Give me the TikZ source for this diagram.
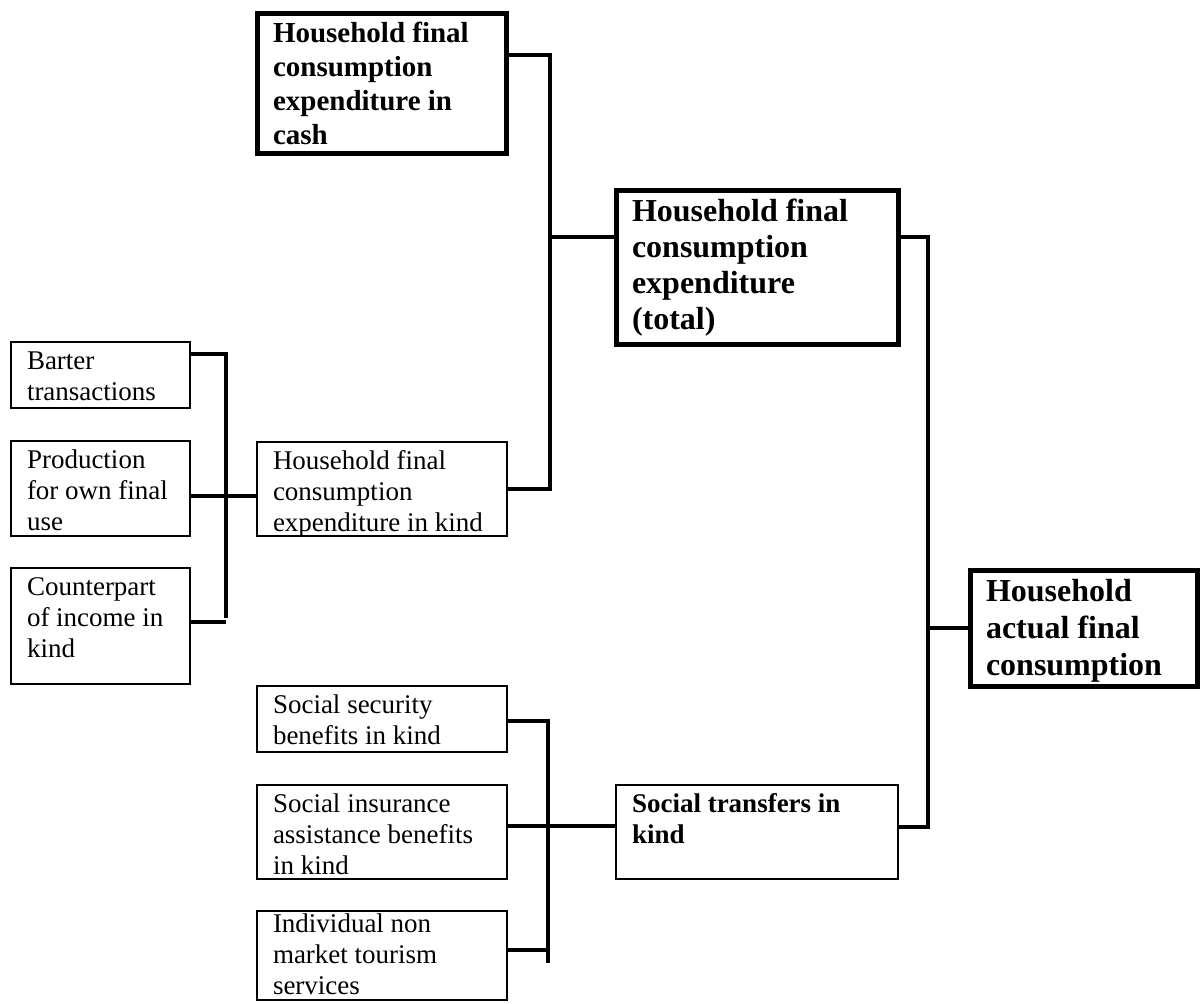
\documentclass[tikz,border=0pt]{standalone}
\usepackage{fontspec}
\setmainfont{Liberation Serif}
\usepackage{tikz}

\newcommand{\boxtext}[3]{\parbox[t][\dimexpr#2-6pt\relax][t]{\dimexpr#1-16pt\relax}{\raggedright\strut#3}}

\begin{document}
\begin{tikzpicture}[x=0.5pt,y=-0.5pt]

          \useasboundingbox (0,0) rectangle (1201,1003);

          \begin{scope}[every node/.style={draw, line width=0.8pt, anchor=north west, outer sep=0pt,
                inner xsep=8pt, inner ysep=3pt, font=\fontsize{13.5}{15.5}\selectfont}]
            \node (barter) at (11,342)  {\boxtext{89.5pt}{33pt}{Barter\\transactions}};
            \node (prod)   at (11,441)  {\boxtext{89.5pt}{47.5pt}{Production\\for own final\\use}};
            \node (count)  at (11,568)  {\boxtext{89.5pt}{58pt}{Counterpart\\of income in\\kind}};
            \node (inkind) at (257,442) {\boxtext{125pt}{47pt}{Household final\\consumption\\expenditure in kind}};
            \node (ss)     at (257,686) {\boxtext{125pt}{33pt}{Social security\\benefits in kind}};
            \node (ins)    at (257,785) {\boxtext{125pt}{47pt}{Social insurance\\assistance benefits\\in kind}};
            \node[inner ysep=0pt] (indiv) at (257,911) {\boxtext{125pt}{50.5pt}{Individual non\\market tourism\\services}};
            \node (transf) at (616,785) {\boxtext{141pt}{47pt}{\bfseries Social transfers in\\kind}};
          \end{scope}

          \begin{scope}[every node/.style={draw, line width=2.5pt, anchor=north west, outer sep=0pt,
                inner xsep=8pt, inner ysep=3pt}]
            \node[font=\fontsize{14.5}{17}\selectfont\bfseries] (cash)  at (257,13)
              {\boxtext{124.5pt}{70pt}{Household final\\consumption\\expenditure in\\cash}};
            \node[font=\fontsize{16}{18}\selectfont\bfseries]   (total) at (616,190)
              {\boxtext{141pt}{77pt}{Household final\\consumption\\expenditure\\(total)}};
            \node[font=\fontsize{16}{18.5}\selectfont\bfseries] (final) at (970,570)
              {\boxtext{113.5pt}{58pt}{Household\\actual final\\consumption}};
          \end{scope}

          \coordinate (lt) at (226,354);
          \coordinate (lm) at (226,496);
          \coordinate (lc) at (226,622);
          \coordinate (lb) at (226,618);
          \coordinate (ct) at (550,55);
          \coordinate (cm) at (550,237);
          \coordinate (cb) at (550,489);
          \coordinate (st) at (548,721);
          \coordinate (sm) at (548,826);
          \coordinate (sb) at (548,950);
          \coordinate (se) at (548,963);
          \coordinate (rt) at (928,237);
          \coordinate (rm) at (928,628);
          \coordinate (rb) at (928,827);

          \begin{scope}[line width=1.6pt]
            \draw (barter.east |- lt) -- (lt) -- (lb);
            \draw (count.east |- lc) -- (lc);
            \draw (prod.east |- lm) -- (inkind.west |- lm);
            \draw (cash.east |- ct) -- (ct) -- (cb) -- (inkind.east |- cb);
            \draw (cm) -- (total.west |- cm);
            \draw (ss.east |- st) -- (st) -- (se);
            \draw (indiv.east |- sb) -- (sb);
            \draw (ins.east |- sm) -- (transf.west |- sm);
            \draw (total.east |- rt) -- (rt) -- (rb) -- (transf.east |- rb);
            \draw (rm) -- (final.west |- rm);
          \end{scope}

        \end{tikzpicture}
\end{document}
